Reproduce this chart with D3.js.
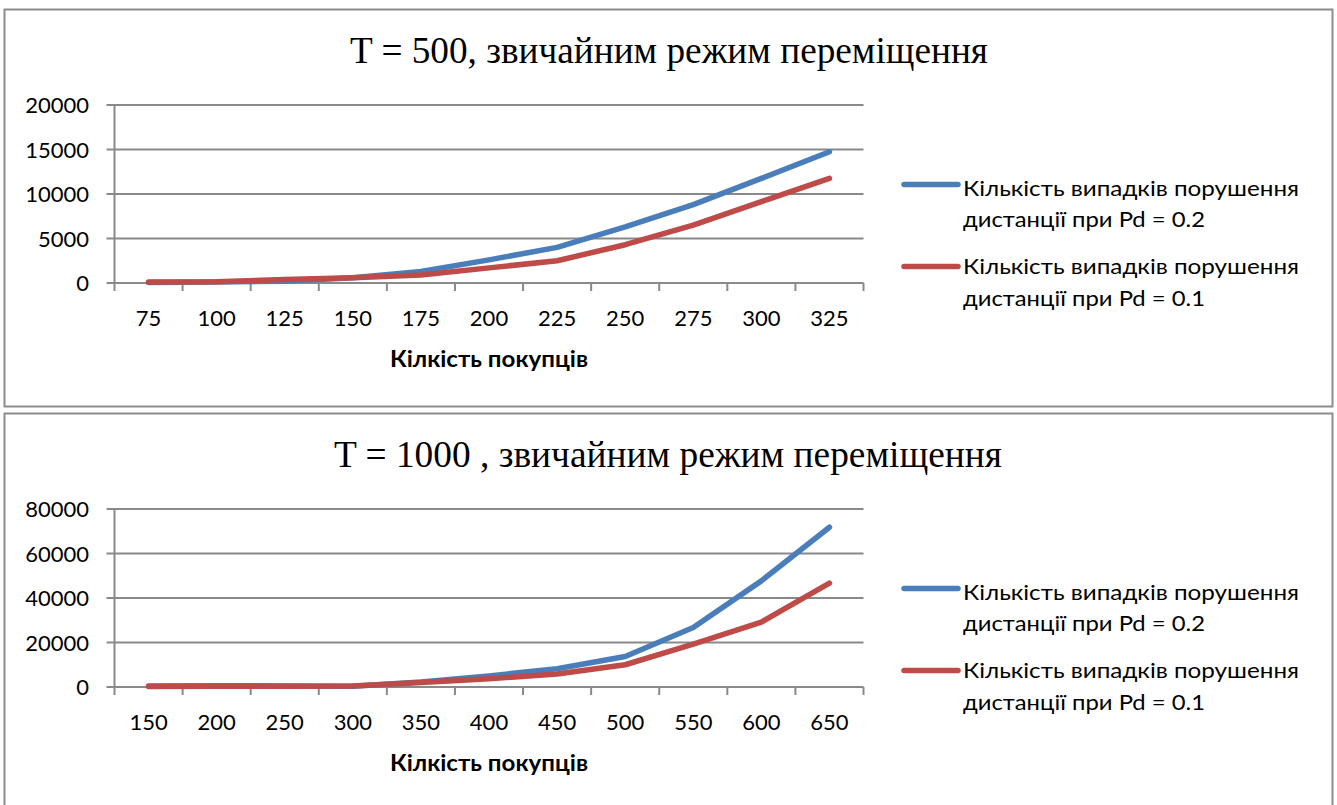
<!DOCTYPE html>
<html>
<head>
<meta charset="utf-8">
<script src="https://cdn.jsdelivr.net/npm/d3@7"></script>
<style>
  html, body { margin: 0; padding: 0; background: #ffffff; }
  svg { display: block; }
  .tick-label { font-family: Lato, "Open Sans", sans-serif; fill: #000; }
</style>
</head>
<body>
<svg id="chart" width="1337" height="805"></svg>
<script>
// Customer counts (x categories) for each simulation length
const customersT500 = [75, 100, 125, 150, 175, 200, 225, 250, 275, 300, 325];
const customersT1000 = [150, 200, 250, 300, 350, 400, 450, 500, 550, 600, 650];

// Number of distance violations, T = 500
const violationsT500Pd02 = [50, 100, 200, 600, 1300, 2600, 4000, 6300, 8800, 11750, 14750];
const violationsT500Pd01 = [100, 150, 400, 600, 900, 1700, 2500, 4300, 6500, 9150, 11750];

// Number of distance violations, T = 1000
const violationsT1000Pd02 = [500, 600, 500, 300, 2300, 5000, 8200, 13700, 26700, 47700, 71800];
const violationsT1000Pd01 = [200, 300, 300, 500, 2000, 3700, 5800, 10000, 19300, 29200, 46700];

// Value axis ticks
const yTicksT500 = [0, 5000, 10000, 15000, 20000];
const yTicksT1000 = [0, 20000, 40000, 60000, 80000];

// Texts
const titleT500 = "T = 500, звичайним режим переміщення";
const titleT1000 = "T = 1000 , звичайним режим переміщення";
const xAxisTitle = "Кілкість покупців";
const seriesNames = [
  ["Кількість випадків порушення", "дистанції при Pd = 0.2"],
  ["Кількість випадків порушення", "дистанції при Pd = 0.1"]
];

const BLUE = "#4a7ebb";
const RED = "#be4b48";
const GRID = "#898989";

const svg = d3.select("#chart");

function drawPanel(top, panelHeight, cfg) {
  const g = svg.append("g").attr("transform", `translate(0,${top})`);

  // frame
  g.append("rect")
    .attr("x", 4.5).attr("y", 0.5)
    .attr("width", 1328).attr("height", panelHeight)
    .attr("fill", "#fff")
    .attr("stroke", "#8c8c8c").attr("stroke-width", 2);

  const left = 114.5, right = 863.5, plotTop = 96, plotBottom = 274;

  const x = d3.scaleBand().domain(cfg.cats).range([left, right]).padding(0);
  const y = d3.scaleLinear().domain([0, d3.max(cfg.ticks)]).range([plotBottom, plotTop]);

  // horizontal gridlines (with short tick stubs on the left)
  g.append("g").selectAll("line")
    .data(cfg.ticks)
    .join("line")
    .attr("x1", left - 8).attr("x2", right)
    .attr("y1", d => y(d)).attr("y2", d => y(d))
    .attr("stroke", GRID).attr("stroke-width", 2);

  // value axis labels
  const yAxis = d3.axisLeft(y).tickValues(cfg.ticks).tickSize(0).tickPadding(0)
    .tickFormat(d3.format("d"));
  const ya = g.append("g").attr("transform", `translate(89,0)`).call(yAxis);
  ya.select(".domain").remove();
  ya.selectAll("text")
    .attr("class", "tick-label")
    .style("font-size", "22px")
    .attr("dy", "0.36em");

  // vertical value axis line
  g.append("line")
    .attr("x1", left).attr("x2", left)
    .attr("y1", plotTop).attr("y2", plotBottom + 8)
    .attr("stroke", GRID).attr("stroke-width", 2);

  // category tick marks between categories
  const boundaries = cfg.cats.map(c => x(c)).concat([right]);
  g.append("g").selectAll("line")
    .data(boundaries.slice(1))
    .join("line")
    .attr("x1", d => d).attr("x2", d => d)
    .attr("y1", plotBottom).attr("y2", plotBottom + 8)
    .attr("stroke", GRID).attr("stroke-width", 2);

  // category axis labels
  const xAxis = d3.axisBottom(x).tickSize(0).tickPadding(0);
  const xa = g.append("g").attr("transform", `translate(0,${plotBottom + 43})`).call(xAxis);
  xa.select(".domain").remove();
  xa.selectAll("text")
    .attr("class", "tick-label")
    .style("font-size", "22px")
    .attr("dy", 0)
    .attr("y", 0);

  // axis title
  g.append("text")
    .attr("x", 489).attr("y", 358)
    .attr("text-anchor", "middle")
    .attr("font-family", "Lato, 'Open Sans', sans-serif")
    .attr("font-weight", "bold")
    .attr("font-size", 22)
    .attr("textLength", 198).attr("lengthAdjust", "spacingAndGlyphs")
    .text(xAxisTitle);

  // chart title
  g.append("text")
    .attr("x", cfg.titleX).attr("y", 53.7)
    .attr("font-family", "'Liberation Serif', 'Times New Roman', serif")
    .attr("font-size", 37)
    .attr("textLength", cfg.titleW).attr("lengthAdjust", "spacingAndGlyphs")
    .text(cfg.title);

  // series lines
  const line = d3.line()
    .x((d, i) => x(cfg.cats[i]) + x.bandwidth() / 2)
    .y(d => y(d));

  const series = [
    { values: cfg.s1, color: BLUE, name: seriesNames[0] },
    { values: cfg.s2, color: RED, name: seriesNames[1] }
  ];

  g.append("g").selectAll("path")
    .data(series)
    .join("path")
    .attr("d", d => line(d.values))
    .attr("fill", "none")
    .attr("stroke", d => d.color)
    .attr("stroke-width", 5.5)
    .attr("stroke-linecap", "round")
    .attr("stroke-linejoin", "round");

  // legend
  const legendRows = [
    { sampleY: 175.5, base1: 186.5, base2: 218 },
    { sampleY: 257.5, base1: 265, base2: 296.5 }
  ];
  series.forEach((s, i) => {
    const r = legendRows[i];
    g.append("line")
      .attr("x1", 904).attr("x2", 958)
      .attr("y1", r.sampleY).attr("y2", r.sampleY)
      .attr("stroke", s.color).attr("stroke-width", 5.5)
      .attr("stroke-linecap", "round");
    g.append("text")
      .attr("x", 963).attr("y", r.base1)
      .attr("font-family", "Lato, 'Open Sans', sans-serif")
      .attr("font-size", 22)
      .attr("textLength", 336).attr("lengthAdjust", "spacingAndGlyphs")
      .text(s.name[0]);
    g.append("text")
      .attr("x", 963).attr("y", r.base2)
      .attr("font-family", "Lato, 'Open Sans', sans-serif")
      .attr("font-size", 22)
      .attr("textLength", 242).attr("lengthAdjust", "spacingAndGlyphs")
      .text(s.name[1]);
  });
}

drawPanel(9, 397, {
  cats: customersT500, s1: violationsT500Pd02, s2: violationsT500Pd01,
  ticks: yTicksT500, title: titleT500, titleX: 350, titleW: 638
});

drawPanel(413, 400, {
  cats: customersT1000, s1: violationsT1000Pd02, s2: violationsT1000Pd01,
  ticks: yTicksT1000, title: titleT1000, titleX: 334, titleW: 668
});
</script>
</body>
</html>
